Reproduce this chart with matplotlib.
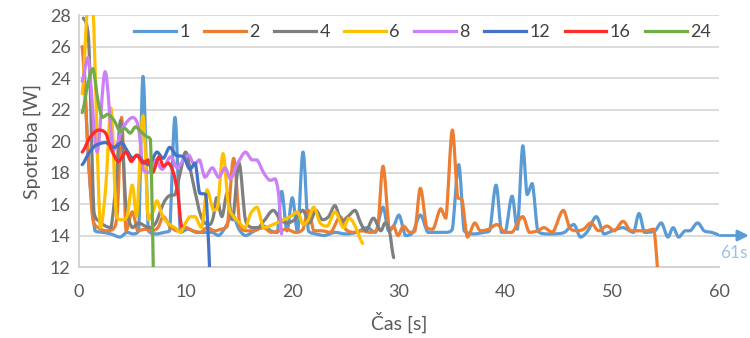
import matplotlib
matplotlib.use("Agg")
import matplotlib.pyplot as plt
from matplotlib.path import Path
from matplotlib.patches import PathPatch
from matplotlib.lines import Line2D

plt.rcParams['font.family'] = ['Lato', 'DejaVu Sans']

# ---- data (time [s], power [W]) ----
t1 = [0.4, 0.9, 1.5, 2.2, 3.0, 3.85, 4.5, 5.1, 5.6, 6.0, 6.5, 7.2, 8.0, 8.5, 9.0, 9.5, 10.2, 11.0, 11.8, 12.5,
      13.1, 13.7, 14.4, 15.0, 15.6, 16.2, 17.3, 18.0, 18.6, 19.0, 19.5, 20.0, 20.5, 21.0, 21.5, 22.2, 23.0, 24.0,
      25.0, 26.0, 27.0, 27.8, 28.5, 29.0, 29.5, 30.0, 30.6, 31.3, 32.0, 32.7, 33.5, 34.5, 35.0, 35.6, 36.1, 37.0,
      38.0, 38.5, 39.1, 39.6, 40.0, 40.6, 41.1, 41.6, 42.0, 42.5, 43.0, 43.7, 44.5, 45.5, 46.4, 47.0, 47.7, 48.5,
      49.2, 50.0, 51.0, 52.0, 52.5, 53.0, 54.0, 54.6, 55.2, 55.7, 56.2, 56.8, 57.3, 58.0, 58.6, 59.3, 60.2]
p1 = [25.6, 18.5, 14.3, 14.2, 14.1, 13.9, 14.2, 14.1, 14.3, 24.1, 14.3, 14.1, 14.2, 14.3, 21.5, 14.2, 14.4, 14.2,
      14.2, 14.2, 14.0, 14.5, 15.3, 14.4, 14.0, 14.2, 14.6, 14.3, 14.2, 16.8, 14.3, 16.4, 14.2, 19.3, 14.3, 14.1,
      14.0, 14.2, 14.1, 14.2, 14.5, 14.2, 15.8, 14.3, 14.6, 15.3, 14.0, 14.2, 15.3, 14.2, 14.2, 14.2, 14.4, 18.5,
      14.3, 14.1, 14.2, 14.3, 17.2, 14.2, 14.3, 16.5, 14.4, 19.7, 16.6, 17.3, 14.3, 14.1, 14.1, 14.2, 14.7, 13.9,
      14.3, 15.2, 14.1, 14.3, 14.5, 14.2, 15.4, 14.2, 14.3, 14.8, 13.9, 14.5, 13.9, 14.3, 14.3, 14.8, 14.3, 14.2, 14.0]

t2 = [0.3, 0.8, 1.3, 1.8, 2.5, 3.2, 3.6, 4.0, 4.4, 5.0, 5.5, 6.2, 6.8, 7.4, 7.9, 8.5, 9.2, 10.0, 10.7, 11.4, 12.0,
      12.7, 13.3, 13.9, 14.5, 15.1, 15.7, 16.4, 17.3, 18.0, 18.8, 19.5, 20.3, 21.0, 21.5, 22.0, 22.8, 23.6, 24.5,
      25.0, 25.7, 26.5, 27.3, 28.0, 28.5, 29.1, 29.5, 29.9, 30.4, 31.0, 31.5, 32.0, 32.6, 33.2, 33.9, 34.4, 35.0,
      35.5, 35.9, 36.4, 37.1, 37.6, 38.4, 39.2, 39.9, 40.6, 41.6, 42.2, 43.0, 43.6, 44.4, 45.4, 46.0, 46.6, 47.3,
      48.0, 48.7, 49.5, 50.2, 51.0, 51.7, 52.5, 53.2, 53.9, 54.6]
p2 = [26.0, 20.0, 15.0, 14.5, 14.3, 14.4, 15.5, 21.5, 14.3, 15.5, 14.3, 14.4, 14.3, 14.5, 15.2, 14.6, 14.3, 14.5,
      14.3, 14.2, 14.5, 14.3, 14.4, 14.6, 18.9, 14.5, 14.3, 14.3, 14.5, 14.2, 14.3, 14.4, 14.2, 14.4, 15.6, 14.3,
      14.3, 14.2, 15.2, 14.4, 14.2, 14.3, 14.2, 14.4, 18.4, 14.3, 14.6, 14.0, 14.6, 14.2, 14.3, 17.0, 14.5, 14.4,
      15.7, 15.1, 20.7, 16.4, 16.3, 13.9, 14.8, 14.3, 14.4, 14.7, 14.2, 14.2, 15.2, 14.2, 14.3, 14.5, 14.2, 15.6,
      14.5, 14.3, 14.4, 14.8, 14.3, 14.6, 14.3, 14.9, 14.3, 14.3, 14.3, 14.4, 9.0]

t4 = [0.4, 0.9, 1.4, 1.9, 2.5, 3.0, 3.5, 3.9, 4.4, 5.0, 5.6, 6.2, 6.6, 7.2, 7.9, 8.4, 9.0, 9.5, 10.0, 10.5, 10.9,
      11.4, 11.8, 12.3, 12.6, 12.9, 13.4, 13.9, 14.4, 15.0, 15.6, 16.2, 16.8, 17.3, 18.2, 18.9, 19.5, 20.2, 21.0,
      21.6, 22.2, 22.8, 23.4, 24.0, 24.6, 25.2, 25.9, 26.4, 26.9, 27.6, 28.3, 28.7, 29.1, 29.5]
p4 = [27.8, 26.5, 15.5, 14.9, 14.6, 14.5, 17.5, 21.3, 16.0, 14.5, 14.8, 14.6, 14.5, 14.8, 16.0, 16.5, 16.6, 18.0,
      19.3, 18.0, 16.7, 15.3, 14.8, 14.7, 15.2, 16.4, 15.2, 16.7, 15.0, 18.6, 15.0, 14.5, 14.5, 14.9, 15.6, 15.0,
      14.8, 15.0, 15.6, 14.8, 15.6, 15.0, 15.2, 15.9, 14.9, 15.2, 15.6, 14.8, 14.3, 15.1, 14.3, 14.8, 14.3, 12.6]

t6 = [0.3, 0.9, 1.3, 2.0, 2.5, 3.0, 3.5, 4.0, 4.5, 5.0, 5.4, 6.0, 6.5, 7.0, 7.3, 7.8, 8.3, 9.0, 9.5, 10.0, 10.4,
      10.9, 11.5, 12.0, 12.6, 13.0, 13.5, 14.0, 14.5, 14.9, 15.6, 16.1, 16.7, 17.3, 18.2, 19.2, 19.8, 20.5, 21.0,
      21.5, 22.0, 22.6, 23.3, 24.0, 24.8, 25.3, 25.8, 26.6]
p6 = [23.0, 29.5, 28.5, 14.5, 17.0, 22.1, 15.2, 15.0, 15.2, 17.2, 15.2, 21.6, 15.0, 15.6, 16.2, 15.3, 14.8, 14.5,
      14.2, 14.8, 15.2, 15.2, 14.5, 16.9, 15.6, 15.8, 19.2, 16.0, 15.2, 14.9, 14.5, 15.4, 15.8, 14.5, 14.7, 15.0,
      15.2, 15.5, 14.7, 15.0, 15.8, 14.8, 14.6, 15.5, 14.5, 15.1, 14.7, 13.5]

t8 = [0.3, 0.85, 1.7, 2.45, 3.2, 3.7, 4.0, 4.6, 5.1, 5.6, 6.0, 6.6, 7.2, 7.8, 8.6, 9.2, 9.8, 10.3, 10.8, 11.3, 11.8,
      12.5, 13.1, 13.7, 14.2, 14.8, 15.6, 16.2, 16.7, 17.3, 17.9, 18.4, 18.7, 19.0]
p8 = [23.8, 25.3, 19.3, 24.4, 19.4, 20.0, 20.7, 21.3, 21.5, 20.8, 18.2, 18.0, 18.8, 18.2, 19.0, 18.3, 18.8, 19.1,
      18.5, 18.8, 17.7, 18.3, 17.7, 18.3, 17.6, 18.5, 19.3, 18.8, 18.8, 18.0, 17.5, 17.6, 16.7, 14.1]

t12 = [0.3, 0.9, 1.5, 2.5, 3.3, 4.0, 4.5, 5.0, 5.5, 6.0, 6.6, 7.3, 7.9, 8.5, 9.1, 9.8, 10.4, 10.9, 11.3, 11.9, 12.6]
p12 = [18.5, 19.2, 19.7, 19.9, 19.6, 19.9, 19.4, 18.9, 19.1, 18.7, 18.5, 19.3, 18.9, 19.6, 19.1, 19.0, 18.2, 18.6,
       16.7, 16.6, 7.0]

t16 = [0.3, 1.0, 1.8, 2.5, 3.0, 3.7, 4.4, 4.9, 5.4, 6.0, 6.5, 6.9, 7.5, 7.9, 8.4, 8.9, 9.3, 9.6]
p16 = [19.3, 20.2, 20.7, 20.5, 19.5, 18.7, 19.3, 18.7, 19.1, 18.6, 18.8, 18.0, 19.0, 18.4, 18.6, 17.9, 16.5, 14.6]

t24 = [0.3, 0.8, 1.3, 1.8, 2.2, 2.7, 3.3, 3.85, 4.3, 4.8, 5.3, 5.8, 6.3, 6.7, 7.2]
p24 = [21.8, 23.5, 24.6, 22.5, 21.5, 21.7, 21.3, 20.6, 20.8, 20.5, 20.9, 20.6, 20.3, 20.1, 5.0]

series_labels = ['1', '2', '4', '6', '8', '12', '16', '24']
series_t = [t1, t2, t4, t6, t8, t12, t16, t24]
series_p = [p1, p2, p4, p6, p8, p12, p16, p24]
colors = ['#5B9BD5', '#ED7D31', '#7F7F7F', '#FFC000', '#CC80F8', '#4472C4', '#FF2A2A', '#70AD47']

x_ticks = [0, 10, 20, 30, 40, 50, 60]
y_ticks = [12, 14, 16, 18, 20, 22, 24, 26, 28]


def smooth_path(xs, ys):
    """Smoothed (Catmull-Rom style) Bezier path through the data points,
    with control points kept inside each segment's value range."""
    pts = list(zip(xs, ys))
    n = len(pts)
    verts = [pts[0]]
    codes = [Path.MOVETO]
    for i in range(n - 1):
        p0 = pts[i - 1] if i > 0 else pts[i]
        pa = pts[i]
        pb = pts[i + 1]
        p3 = pts[i + 2] if i + 2 < n else pts[i + 1]
        lo, hi = min(pa[1], pb[1]), max(pa[1], pb[1])
        c1y = min(max(pa[1] + (pb[1] - p0[1]) / 6.0, lo), hi)
        c2y = min(max(pb[1] - (p3[1] - pa[1]) / 6.0, lo), hi)
        c1 = (pa[0] + (pb[0] - pa[0]) / 3.0, c1y)
        c2 = (pb[0] - (pb[0] - pa[0]) / 3.0, c2y)
        verts += [c1, c2, pb]
        codes += [Path.CURVE4] * 3
    return Path(verts, codes)


fig = plt.figure(figsize=(7.5, 3.38), dpi=100)
ax = fig.add_axes([0.1053, 0.210, 0.8534, 0.7456])

lw = 2.3
handles = []
for xs, ys, c, lab in zip(series_t, series_p, colors, series_labels):
    patch = PathPatch(smooth_path(xs, ys), facecolor='none', edgecolor=c, lw=lw,
                      capstyle='round', joinstyle='round', zorder=3)
    ax.add_patch(patch)
    handles.append(Line2D([], [], color=c, lw=lw, label=lab))

ax.set_xlim(0, 60)
ax.set_ylim(12, 28)
ax.set_xticks(x_ticks)
ax.set_yticks(y_ticks)
ax.yaxis.grid(True, color='#D9D9D9', lw=1.3)
ax.set_axisbelow(True)
for s in ['top', 'right']:
    ax.spines[s].set_visible(False)
for s in ['left', 'bottom']:
    ax.spines[s].set_color('#D0D0D0')
    ax.spines[s].set_linewidth(1.3)
ax.tick_params(axis='both', length=0, labelsize=13, colors='#595959')
ax.tick_params(axis='x', pad=12)
ax.tick_params(axis='y', pad=6)

ax.set_xlabel('Čas [s]', fontsize=14, color='#595959', labelpad=9)
ax.set_ylabel('Spotreba [W]', fontsize=14, color='#595959', labelpad=6)

leg = ax.legend(handles=handles, ncol=8, loc='center', bbox_to_anchor=(0.537, 0.933),
                frameon=False, fontsize=13, handlelength=2.3, handletextpad=0.2,
                columnspacing=0.8, labelcolor='#404040')

# extension arrow to 61 s
ax.annotate('', xy=(62.8, 14.0), xytext=(60.1, 14.0),
            arrowprops=dict(arrowstyle='-|>', color='#5B9BD5', lw=2, mutation_scale=16,
                            shrinkA=0, shrinkB=0),
            annotation_clip=False)
ax.text(62.7, 12.9, '61s', color='#9DC3E6', fontsize=12.5, ha='right', va='center',
        clip_on=False)

fig.savefig('out.png', dpi=100)
